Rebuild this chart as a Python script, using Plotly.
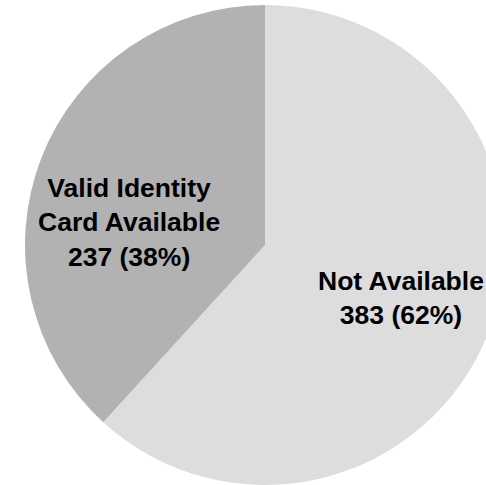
import math
import plotly.graph_objects as go

labels = ["Not Available", "Valid Identity<br>Card Available"]
values = [383, 237]
colors = ["#dddddd", "#b2b2b2"]

W, H = 530, 485
dom_y_top = 480 / H
R_px = 240          # pie radius in pixels (min of domain size / 2)
label_frac = 0.61   # label distance from centre as a fraction of the radius


def label_nudge(mid_angle):
    # labels on the left half sit a little lower than the bisector (best-fit style)
    return -30 if math.sin(mid_angle) < 0 else 0


fig = go.Figure(
    go.Pie(
        labels=labels,
        values=values,
        sort=False,
        direction="clockwise",
        rotation=0,
        marker=dict(colors=colors, line=dict(width=0)),
        textinfo="none",
        hoverinfo="skip",
        domain=dict(x=[0, 1], y=[0, dom_y_top]),
        showlegend=False,
    )
)

# labels placed on each slice's bisector, derived from the values
total = sum(values)
cx, cy = 0.5, dom_y_top / 2
cum = 0
for lab, v in zip(labels, values):
    mid = (cum + v / 2) / total * 2 * math.pi
    cum += v
    x = cx + label_frac * R_px * math.sin(mid) / W
    y = cy + label_frac * R_px * math.cos(mid) / H
    fig.add_annotation(
        x=x, y=y, xref="paper", yref="paper",
        text=f"<b>{lab}<br>{v} ({round(v / total * 100)}%)</b>",
        showarrow=False, xanchor="center", yanchor="middle",
        yshift=label_nudge(mid),
        font=dict(family="Liberation Sans, Arial, sans-serif", size=26.5, color="#000000"),
    )

fig.update_layout(
    width=W,
    height=H,
    margin=dict(l=0, r=0, t=0, b=0),
    paper_bgcolor="#ffffff",
    plot_bgcolor="#ffffff",
)

fig.write_html(
    "out.html",
    config={"displayModeBar": False},
    post_script="document.body.style.margin='0';document.body.style.overflow='hidden';document.documentElement.style.overflow='hidden';",
)
